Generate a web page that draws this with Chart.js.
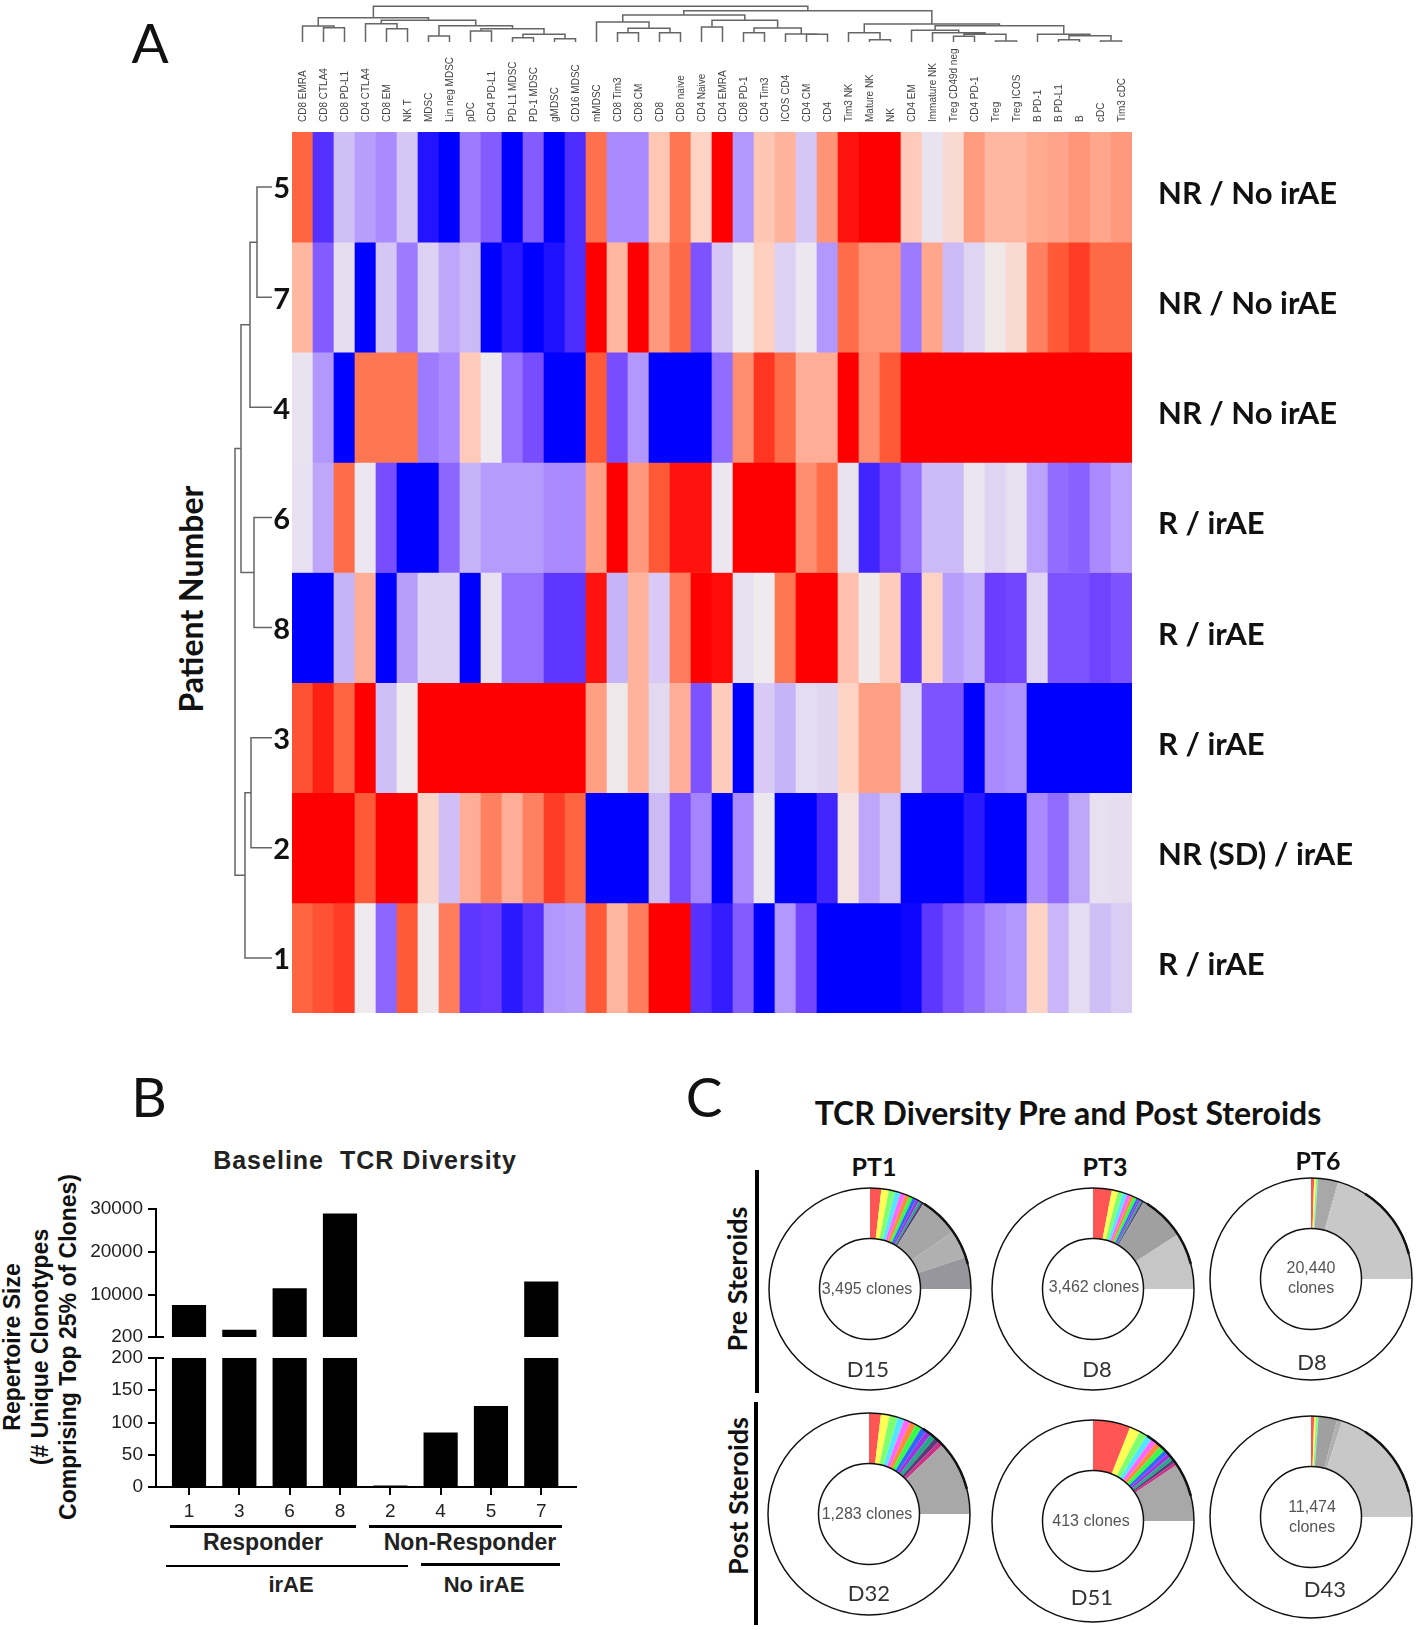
<!DOCTYPE html>
<html>
<head>
<meta charset="utf-8">
<title>Baseline TCR diversity and immune profile</title>
<script src="https://cdn.jsdelivr.net/npm/chart.js@4"></script>
<style>
    html, body { margin: 0; padding: 0; background: #fff; }
    #page { position: relative; width: 1418px; height: 1630px; overflow: hidden; background: #fff; }
    canvas { position: absolute; }
    .txt { position: absolute; white-space: pre; transform: translate(-50%, -50%); color: #111; line-height: 1; }
    .up { transform: translate(-50%, -50%) rotate(-90deg); }
    .lato { font-family: Lato, sans-serif; }
    .arial { font-family: "Liberation Sans", sans-serif; }
    .b { font-weight: bold; }
    .panel { font-size: 55px; }
    .clones { font-size: 16px; color: #555; font-family: "Liberation Sans", sans-serif; }
    .day { font-size: 22px; color: #333; font-family: Lato, sans-serif; }
    .pt { font-size: 25px; font-weight: bold; font-family: Lato, sans-serif; }
    .rule { position: absolute; background: #000; }
</style>
</head>
<body>
<div id="page">
    <canvas id="heat" width="1158" height="1013" style="left:260px;top:0"></canvas>
    <canvas id="topTree" width="840" height="42" style="left:292px;top:0"></canvas>
    <canvas id="sideTree" width="42" height="881" style="left:230px;top:132px"></canvas>

    <canvas id="barLower" width="491" height="177" style="left:86px;top:1348px"></canvas>
    <canvas id="barUpper" width="491" height="150" style="left:86px;top:1199px"></canvas>

    <canvas id="pt1Pre" width="212" height="212" style="left:764px;top:1183px"></canvas>
    <canvas id="pt3Pre" width="212" height="212" style="left:987px;top:1183px"></canvas>
    <canvas id="pt6Pre" width="212" height="212" style="left:1205px;top:1173px"></canvas>
    <canvas id="pt1Post" width="212" height="212" style="left:763px;top:1408px"></canvas>
    <canvas id="pt3Post" width="212" height="212" style="left:987px;top:1415px"></canvas>
    <canvas id="pt6Post" width="212" height="212" style="left:1205px;top:1411px"></canvas>

    <div class="txt lato panel" style="left:150px;top:42px">A</div>
    <div class="txt lato panel" style="left:149px;top:1096px">B</div>
    <div class="txt lato panel" style="left:704px;top:1096px">C</div>

    <div class="txt lato b up" style="left:191px;top:599px;font-size:32px">Patient Number</div>

    <div class="txt arial b" style="left:365px;top:1160px;font-size:25px;letter-spacing:1px;color:#222">Baseline  TCR Diversity</div>
    <div class="txt arial b up" style="left:12px;top:1347px;font-size:23px">Repertoire Size</div>
    <div class="txt arial b up" style="left:40px;top:1347px;font-size:23px">(# Unique Clonotypes</div>
    <div class="txt arial b up" style="left:68px;top:1347px;font-size:23px">Comprising Top 25% of Clones)</div>

    <div class="rule" style="left:156px;top:1336px;width:8px;height:2px"></div>
    <div class="rule" style="left:156px;top:1357px;width:8px;height:2px"></div>
    <div class="rule" style="left:170px;top:1525px;width:186px;height:3px"></div>
    <div class="rule" style="left:369px;top:1525px;width:193px;height:3px"></div>
    <div class="rule" style="left:166px;top:1565px;width:242px;height:2px"></div>
    <div class="rule" style="left:421px;top:1563px;width:139px;height:3px"></div>
    <div class="txt arial b" style="left:263px;top:1542px;font-size:23px;color:#222">Responder</div>
    <div class="txt arial b" style="left:470px;top:1542px;font-size:23px;color:#222">Non-Responder</div>
    <div class="txt arial b" style="left:291px;top:1585px;font-size:22px;color:#222">irAE</div>
    <div class="txt arial b" style="left:484px;top:1585px;font-size:22px;color:#222">No irAE</div>

    <div class="txt lato b" style="left:1068px;top:1113px;font-size:32px">TCR Diversity Pre and Post Steroids</div>
    <div class="txt pt" style="left:874px;top:1166px">PT1</div>
    <div class="txt pt" style="left:1105px;top:1166px">PT3</div>
    <div class="txt pt" style="left:1318px;top:1160px">PT6</div>

    <div class="txt lato b up" style="left:736px;top:1279px;font-size:27px">Pre Steroids</div>
    <div class="txt lato b up" style="left:737px;top:1496px;font-size:27px">Post Steroids</div>
    <div class="rule" style="left:755px;top:1170px;width:4px;height:223px"></div>
    <div class="rule" style="left:754px;top:1402px;width:4px;height:223px"></div>

    <div class="txt clones" style="left:867px;top:1289px">3,495 clones</div>
    <div class="txt clones" style="left:1094px;top:1287px">3,462 clones</div>
    <div class="txt clones" style="left:1311px;top:1268px">20,440</div>
    <div class="txt clones" style="left:1311px;top:1288px">clones</div>
    <div class="txt clones" style="left:867px;top:1514px">1,283 clones</div>
    <div class="txt clones" style="left:1091px;top:1521px">413 clones</div>
    <div class="txt clones" style="left:1312px;top:1507px">11,474</div>
    <div class="txt clones" style="left:1312px;top:1527px">clones</div>

    <div class="txt day" style="left:868px;top:1369px">D15</div>
    <div class="txt day" style="left:1097px;top:1369px">D8</div>
    <div class="txt day" style="left:1312px;top:1362px">D8</div>
    <div class="txt day" style="left:869px;top:1593px">D32</div>
    <div class="txt day" style="left:1092px;top:1597px">D51</div>
    <div class="txt day" style="left:1325px;top:1589px">D43</div>
</div>

<script>
// panel A: cell populations, left to right
const cellTypes = ['CD8 EMRA', 'CD8 CTLA4', 'CD8 PD-L1', 'CD4 CTLA4', 'CD8 EM', 'NK T', 'MDSC', 'Lin neg MDSC',
    'pDC', 'CD4 PD-L1', 'PD-L1 MDSC', 'PD-1 MDSC', 'gMDSC', 'CD16 MDSC', 'mMDSC', 'CD8 Tim3', 'CD8 CM', 'CD8',
    'CD8 naive', 'CD4 Naive', 'CD4 EMRA', 'CD8 PD-1', 'CD4 Tim3', 'ICOS CD4', 'CD4 CM', 'CD4', 'Tim3 NK',
    'Mature NK', 'NK', 'CD4 EM', 'Immature NK', 'Treg CD49d neg', 'CD4 PD-1', 'Treg', 'Treg ICOS', 'B PD-1',
    'B PD-L1', 'B', 'cDC', 'Tim3 cDC'];

const patients = ['5', '7', '4', '6', '8', '3', '2', '1'];
const outcomes = ['NR / No irAE', 'NR / No irAE', 'NR / No irAE', 'R / irAE', 'R / irAE', 'R / irAE', 'NR (SD) / irAE', 'R / irAE'];

// heat values, -100 is full blue and 100 is full red
const patient5 = [75, -80, -28, -42, -50, -25, -92, -100, -55, -65, -100, -65, -100, -82, 70, -50, -50, 30, 68, 22,
    100, -45, 30, 40, -25, 55, 95, 100, 100, 28, -5, 15, 52, 38, 38, 45, 48, 55, 47, 53];
const patient7 = [38, -65, -8, -100, -25, -55, -18, -38, -30, -100, -90, -100, -93, -82, 100, 38, 100, 53, 73, -68,
    -25, 0, 25, -18, -3, -45, 72, 55, 55, -55, 47, -30, -15, 3, 15, 63, 78, 85, 73, 73];
const patient4 = [-5, -45, -100, 68, 68, 68, -55, -50, 28, 0, -58, -70, -100, -100, 78, -70, -45, -100, -100, -100,
    -60, 58, 87, 72, 43, 43, 100, 58, 78, 100, 100, 100, 100, 100, 100, 100, 100, 100, 100, 100];
const patient6 = [-7, -38, 72, -3, -70, -100, -100, -62, -33, -43, -43, -43, -50, -50, 50, 100, 53, 78, 95, 95,
    -3, 100, 100, 100, 58, 72, -5, -85, -73, -58, -30, -30, -4, -15, -7, -40, -60, -63, -50, -40];
const patient8 = [-100, -100, -33, 43, -100, -42, -17, -17, -100, -7, -58, -58, -78, -78, 95, -33, 40, -22, 65, 100,
    97, -7, 0, 68, 100, 100, 33, 1, 27, -78, 22, -42, -35, -75, -72, -15, -68, -68, -73, -68];
const patient3 = [80, 92, 75, 100, -28, 0, 100, 100, 100, 100, 100, 100, 100, 100, 50, 2, 40, -12, 43, -68,
    27, -100, -22, -33, -10, -14, 22, 50, 50, -15, -68, -68, -100, -50, -47, -100, -100, -100, -100, -100];
const patient2 = [100, 100, 100, 78, 100, 100, 20, -28, 43, 63, 43, 63, 85, 75, -100, -100, -100, -30, -70, -52,
    -100, -50, -2, -100, -100, -85, 8, -38, -27, -100, -100, -100, -90, -100, -100, -50, -60, -38, -7, -8];
const patient1 = [75, 80, 85, 0, -62, 78, 1, 65, -78, -76, -90, -80, -45, -42, 78, 38, 65, 100, 100, -80,
    -88, -65, -100, -45, -72, -100, -100, -100, -100, -97, -78, -68, -60, -50, -45, 22, -32, -10, -28, -20];
const heatRows = [patient5, patient7, patient4, patient6, patient8, patient3, patient2, patient1];

// clustering: [child a, child b, height]. Below 40 a child is a column, from 40 up it is an earlier merge
const columnMerges = [[1, 2, 14.3], [0, 40, 16], [4, 5, 13.3], [3, 42, 18.3], [6, 7, 6], [8, 9, 11], [10, 11, 4.3],
    [12, 13, 3.3], [46, 47, 7.7], [45, 48, 13.3], [44, 49, 16.3], [43, 50, 21.7], [41, 51, 24.3], [15, 16, 9.3],
    [17, 18, 9.3], [53, 54, 13.7], [14, 55, 20], [19, 20, 15], [21, 22, 9.3], [24, 25, 7.7], [23, 59, 8],
    [58, 60, 14], [57, 61, 21.7], [56, 62, 27], [27, 28, 2.3], [26, 64, 9.3], [31, 32, 5.7], [33, 34, 1],
    [66, 67, 7.7], [30, 68, 9.3], [29, 69, 11.7], [36, 37, 2.3], [38, 39, 1], [71, 72, 6.3], [35, 73, 7.7],
    [70, 74, 16.3], [65, 75, 18], [63, 76, 31.3], [52, 77, 35.7]];
const patientMerges = [[0, 1, 15], [8, 2, 22], [3, 4, 18], [9, 10, 31], [5, 6, 21], [12, 7, 27], [11, 13, 37]];

// panel B
const barPatients = ['1', '3', '6', '8', '2', '4', '5', '7'];
const repertoireSize = [7600, 1790, 11450, 28900, 2, 84, 125, 13070];
const upperTicks = [200, 10000, 20000, 30000];
const lowerTicks = [0, 50, 100, 150, 200];

// panel C: shares of all clones in %, coloured clones, then grey bands, then the rest
const pt1PreShares = [1.8, 1.2, 1, 0.9, 0.8, 0.7, 0.6, 0.6, 0.5, 0.4, 0.4, 6.5, 4.5, 5.1, 75];
const pt3PreShares = [3, 1, 0.8, 0.7, 0.6, 0.5, 0.5, 0.4, 0.3, 0.3, 0.3, 7.5, 9.1, 75];
const pt6PreShares = [0.5, 0.3, 0.2, 0.1, 3.2, 0.2, 20.5, 75];
const pt1PostShares = [1.9, 1.4, 1.3, 1.1, 1, 1, 1, 0.9, 0.9, 0.9, 0.8, 0.8, 12, 75];
const pt3PostShares = [6, 1.7, 1.2, 1, 0.9, 0.9, 0.9, 0.7, 0.7, 0.6, 0.5, 0.5, 9.4, 75];
const pt6PostShares = [0.5, 0.3, 0.3, 0.1, 3, 0.8, 20, 75];

const clonePalette = ['#ff5555', '#ffff55', '#7dff6e', '#55e6ff', '#ff66ff', '#ff8a3c', '#33ff44', '#3366ff', '#a033dd', '#22aa88', '#5a3a7a', '#cc3388'];
const heatStops = [
    [-100, [0, 0, 255]], [-75, [106, 61, 255]], [-50, [169, 139, 255]], [-25, [213, 198, 245]], [0, [238, 234, 238]],
    [25, [255, 208, 192]], [50, [255, 160, 133]], [75, [255, 101, 64]], [100, [255, 0, 0]]
];

Chart.defaults.animation = false;
Chart.defaults.plugins.legend.display = false;
Chart.defaults.plugins.tooltip.enabled = false;

function heatColor(v) {
    for (let i = 1; i < heatStops.length; i++) {
        const [v1, c1] = heatStops[i];
        if (v <= v1) {
            const [v0, c0] = heatStops[i - 1];
            const t = (v - v0) / (v1 - v0);
            const c = c0.map((x, k) => Math.round(x + (c1[k] - x) * t));
            return `rgb(${c[0]},${c[1]},${c[2]})`;
        }
    }
    return 'rgb(255,0,0)';
}

// Fixed width for a y axis, and no room kept for its first and last label
function fixedWidth(w) {
    return s => {
        s.width = w;
        s.paddingTop = 0;
        s.paddingBottom = 0;
    };
}

// Heat map is a stack of one unit bars per patient
new Chart(document.getElementById('heat'), {
    type: 'bar',
    data: {
        labels: cellTypes,
        datasets: heatRows.map(row => ({
            data: row.map(() => 1),
            backgroundColor: row.map(heatColor),
            borderWidth: 0,
            barPercentage: 1,
            categoryPercentage: 1
        }))
    },
    options: {
        responsive: false,
        layout: { padding: 0, autoPadding: false },
        scales: {
            x: {
                position: 'top',
                stacked: true,
                grid: { display: false, drawTicks: false },
                border: { display: false },
                afterFit: s => { s.height = 132; },
                ticks: {
                    autoSkip: false,
                    minRotation: 90,
                    maxRotation: 90,
                    padding: 10,
                    labelOffset: 13,
                    color: '#444',
                    font: { family: 'Liberation Sans', size: 10 }
                }
            },
            y: {
                stacked: true,
                reverse: true,
                min: 0,
                max: 8,
                grid: { display: false, drawTicks: false },
                border: { display: false },
                afterFit: fixedWidth(32),
                afterBuildTicks: s => { s.ticks = patients.map((p, i) => ({ value: i + 0.5 })); },
                ticks: {
                    padding: 2,
                    labelOffset: 2,
                    color: '#111',
                    callback: v => patients[Math.floor(v)],
                    font: { family: 'Lato', size: 29, weight: 'bold' }
                }
            },
            outcome: {
                position: 'right',
                reverse: true,
                min: 0,
                max: 8,
                grid: { display: false, drawTicks: false },
                border: { display: false },
                afterFit: fixedWidth(286),
                afterBuildTicks: s => { s.ticks = outcomes.map((p, i) => ({ value: i + 0.5 })); },
                ticks: {
                    padding: 26,
                    labelOffset: 7,
                    color: '#111',
                    callback: v => outcomes[Math.floor(v)],
                    font: { family: 'Lato', size: 31, weight: 'bold' }
                }
            }
        }
    }
});

// Walks the merges and gives back the bracket lines in (position, height) terms
function treeSegments(merges, leafCount) {
    const pos = [];
    const height = [];
    for (let i = 0; i < leafCount; i++) { pos[i] = i + 0.5; height[i] = 0; }
    const pts = [];
    merges.forEach(([a, b, h], i) => {
        pts.push({ p: pos[a], h: height[a] }, { p: pos[a], h }, { p: pos[b], h }, { p: pos[b], h: height[b] }, { p: NaN, h: NaN });
        pos[leafCount + i] = (pos[a] + pos[b]) / 2;
        height[leafCount + i] = h;
    });
    return pts;
}

const treeLine = { showLine: true, pointRadius: 0, borderColor: '#666', borderWidth: 1.5, borderJoinStyle: 'miter', tension: 0 };

new Chart(document.getElementById('topTree'), {
    type: 'scatter',
    data: { datasets: [{ ...treeLine, data: treeSegments(columnMerges, 40).map(d => ({ x: d.p, y: d.h })) }] },
    options: {
        responsive: false,
        layout: { autoPadding: false },
        scales: {
            x: { display: false, min: 0, max: 40 },
            y: { display: false, min: 0, max: 42 }
        }
    }
});

new Chart(document.getElementById('sideTree'), {
    type: 'scatter',
    data: { datasets: [{ ...treeLine, data: treeSegments(patientMerges, 8).map(d => ({ x: d.h, y: d.p })) }] },
    options: {
        responsive: false,
        layout: { autoPadding: false },
        scales: {
            x: { display: false, reverse: true, min: 0, max: 42 },
            y: { display: false, reverse: true, min: 0, max: 8 }
        }
    }
});

// Panel B is two charts, the y axis breaks at 200
function barPanel(id, yMin, yMax, yTicks, showX, padBottom) {
    return new Chart(document.getElementById(id), {
        type: 'bar',
        data: {
            datasets: [{
                data: barPatients.map((p, i) => ({ x: i, y: repertoireSize[i] >= yMin ? repertoireSize[i] : null })),
                backgroundColor: '#000',
                borderWidth: 0,
                barThickness: 33.5
            }]
        },
        options: {
            responsive: false,
            layout: { padding: { top: 10, bottom: padBottom }, autoPadding: false },
            scales: {
                x: {
                    type: 'linear',
                    display: showX,
                    offset: false,
                    min: -0.656,
                    max: 7.71,
                    border: { color: '#000', width: 2 },
                    grid: { offset: false, drawOnChartArea: false, color: '#000', lineWidth: 2, tickLength: 8 },
                    afterFit: s => { s.height = showX ? 38 : 0; },
                    afterBuildTicks: s => { s.ticks = barPatients.map((p, i) => ({ value: i })); },
                    ticks: {
                        autoSkip: false,
                        maxRotation: 0,
                        padding: 5,
                        color: '#222',
                        callback: v => barPatients[v],
                        font: { family: 'Liberation Sans', size: 19 }
                    }
                },
                y: {
                    min: yMin,
                    max: yMax,
                    border: { color: '#000', width: 2 },
                    grid: { drawOnChartArea: false, color: '#000', lineWidth: 2, tickLength: 8 },
                    afterFit: fixedWidth(70),
                    afterBuildTicks: s => { s.ticks = yTicks.map(v => ({ value: v })); },
                    ticks: {
                        padding: 5,
                        color: '#222',
                        font: { family: 'Liberation Sans', size: 19 },
                        callback: v => String(v)
                    }
                }
            }
        }
    });
}

barPanel('barUpper', 200, 30000, upperTicks, false, 12);
barPanel('barLower', 0, 200, lowerTicks, true, 0);

// Outline of the ring, with a heavier edge where the clones are packed
const ringOutline = {
    id: 'ringOutline',
    afterDatasetsDraw(chart) {
        const arc = chart.getDatasetMeta(0).data[0];
        const ctx = chart.ctx;
        ctx.save();
        ctx.strokeStyle = '#111';
        ctx.lineWidth = 1.5;
        [arc.outerRadius, arc.innerRadius].forEach(r => {
            ctx.beginPath();
            ctx.arc(arc.x, arc.y, r, 0, Math.PI * 2);
            ctx.stroke();
        });
        ctx.lineWidth = 2.5;
        ctx.beginPath();
        ctx.arc(arc.x, arc.y, arc.outerRadius, -Math.PI * 0.32, -Math.PI * 0.08);
        ctx.stroke();
        ctx.restore();
    }
};

function donut(id, shares, greys) {
    const coloured = shares.length - greys.length - 1;
    const colours = [...clonePalette.slice(0, coloured), ...greys, '#ffffff'];
    new Chart(document.getElementById(id), {
        type: 'doughnut',
        data: { datasets: [{ data: shares, backgroundColor: colours, borderWidth: 0 }] },
        options: { responsive: false, cutout: '50%', layout: { padding: 5 } },
        plugins: [ringOutline]
    });
}

donut('pt1Pre', pt1PreShares, ['#a6a6a6', '#b0b0b0', '#96969c']);
donut('pt3Pre', pt3PreShares, ['#a0a0a0', '#c6c6c6']);
donut('pt6Pre', pt6PreShares, ['#a8a8a8', '#b0b8c0', '#c8c8c8']);
donut('pt1Post', pt1PostShares, ['#a8a8a8']);
donut('pt3Post', pt3PostShares, ['#a8a8a8']);
donut('pt6Post', pt6PostShares, ['#a0a0a0', '#b0b0b0', '#c8c8c8']);
</script>
</body>
</html>
